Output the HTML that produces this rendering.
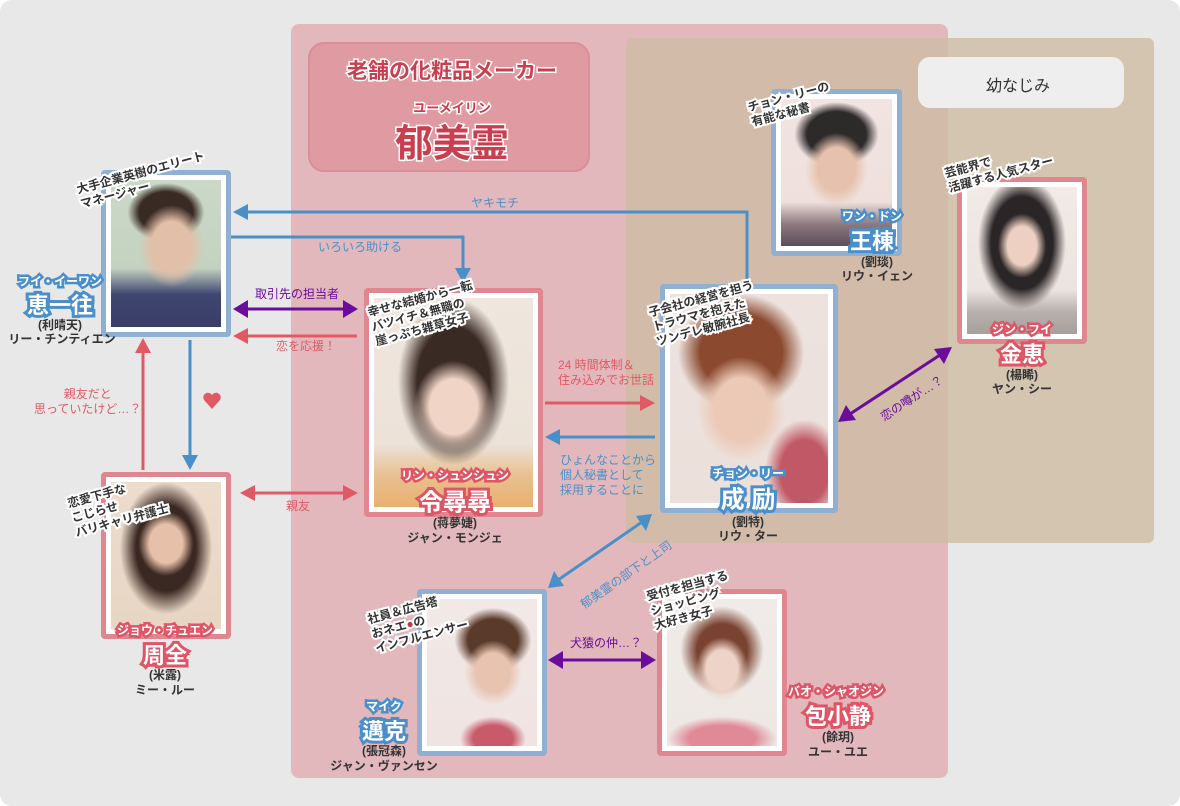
<!DOCTYPE html>
<html><head><meta charset="utf-8"><style>
*{margin:0;padding:0;box-sizing:border-box}
body{width:1180px;height:806px;background:#fff;position:relative;overflow:hidden;font-family:"Liberation Sans","Noto Sans CJK JP",sans-serif}
.a{position:absolute}
.c{position:absolute;transform:translate(-50%,-50%);white-space:nowrap;text-align:center}
.card{position:absolute;border:5px solid;border-radius:4px;background:#fff;padding:5px}
.card div{width:100%;height:100%}
.b{border-color:#8fb0d2}.p{border-color:#e0868f}
.nb,.np{color:#fff;font-weight:bold;paint-order:stroke fill}
.nb{-webkit-text-stroke:6px #4a8fcb}
.np{-webkit-text-stroke:6px #de5566}
.f{font-size:12px;-webkit-text-stroke-width:5px}
.nm{font-size:22px}
.k{font-size:12px;color:#333;font-weight:bold;line-height:14px}
.d{position:absolute;font-size:12px;font-weight:bold;color:#333;line-height:15px;transform:rotate(-15deg);transform-origin:left top;white-space:nowrap;-webkit-text-stroke:4px #fff;paint-order:stroke fill}
.l{position:absolute;font-size:12px;line-height:15px;white-space:nowrap}
</style></head><body>
<div class="a" style="left:0;top:0;width:1180px;height:806px;background:#e8e8e8;border-radius:12px"></div>
<div class="a" style="left:626px;top:38px;width:528px;height:505px;background:#d3c5b0;border-radius:6px"></div>
<div class="a" style="left:291px;top:24px;width:657px;height:754px;background:#e3b8bd;border-radius:8px"></div>
<div class="a" style="left:626px;top:38px;width:322px;height:505px;background:#d2bba9;border-radius:6px 0 0 6px"></div>
<div class="a" style="left:308px;top:42px;width:282px;height:130px;background:#e09aa2;border:2px solid #d88f98;border-radius:16px"></div>
<div class="c" style="left:452px;top:70px;font-size:21px;font-weight:bold;color:#c8404f;-webkit-text-stroke:3px #fff;paint-order:stroke fill">老舗の化粧品メーカー</div>
<div class="c" style="left:452px;top:107px;font-size:13px;font-weight:bold;color:#c8404f;-webkit-text-stroke:3px #fff;paint-order:stroke fill">ユーメイリン</div>
<div class="c" style="left:452px;top:140px;font-size:38px;font-weight:bold;color:#c8404f;-webkit-text-stroke:3px #fff;paint-order:stroke fill">郁美霊</div>
<div class="a" style="left:918px;top:57px;width:206px;height:51px;background:#eee;border-radius:12px"></div>
<div class="c" style="left:1018px;top:84px;font-size:16px;color:#333">幼なじみ</div>

<svg class="a" style="left:0;top:0" width="1180" height="806">
<g fill="none" stroke-width="3">
<path d="M747,284V212H248" stroke="#4a90c8"/>
<path d="M231,237H463V268" stroke="#4a90c8"/>
<path d="M248,309H343" stroke="#6a0d9a"/>
<path d="M357,336H248" stroke="#e05a66"/>
<path d="M190,340V455" stroke="#4a90c8"/>
<path d="M143,470V353" stroke="#e05a66"/>
<path d="M255,493H343" stroke="#e05a66"/>
<path d="M545,403H640" stroke="#e05a66"/>
<path d="M655,437H560" stroke="#4a90c8"/>
<path d="M850,414L940,355" stroke="#6a0d9a"/>
<path d="M558,580L642,522" stroke="#4a90c8"/>
<path d="M562,660H642" stroke="#6a0d9a"/>
</g>
<polygon points="233,212 248,204 248,220" fill="#4a90c8"/>
<polygon points="463,283 455,268 471,268" fill="#4a90c8"/>
<polygon points="233,309 248,300 248,318" fill="#6a0d9a"/>
<polygon points="358,309 343,300 343,318" fill="#6a0d9a"/>
<polygon points="233,336 248,328 248,344" fill="#e05a66"/>
<polygon points="190,470 182,455 198,455" fill="#4a90c8"/>
<polygon points="143,338 135,353 151,353" fill="#e05a66"/>
<polygon points="240,493 255,485 255,501" fill="#e05a66"/>
<polygon points="358,493 343,485 343,501" fill="#e05a66"/>
<polygon points="655,403 640,395 640,411" fill="#e05a66"/>
<polygon points="545,437 560,429 560,445" fill="#4a90c8"/>
<polygon points="838,422 846,405 856,420" fill="#6a0d9a"/>
<polygon points="952,347 934,349 944,364" fill="#6a0d9a"/>
<polygon points="548,588 554,571 564,586" fill="#4a90c8"/>
<polygon points="652,514 636,516 646,531" fill="#4a90c8"/>
<polygon points="548,660 563,651 563,669" fill="#6a0d9a"/>
<polygon points="656,660 641,651 641,669" fill="#6a0d9a"/>
<path d="M212,409 L204,400 A4.5,4.5 0 1 1 212,395 A4.5,4.5 0 1 1 220,400 Z" fill="#e05a66"/>
</svg>

<div class="l" style="left:471px;top:196px;color:#4a90c8">ヤキモチ</div>
<div class="l" style="left:318px;top:240px;color:#4a90c8">いろいろ助ける</div>
<div class="l" style="left:255px;top:287px;color:#6a0d9a">取引先の担当者</div>
<div class="l" style="left:276px;top:339px;color:#e05a66">恋を応援！</div>
<div class="l" style="left:34px;top:387px;color:#e05a66;text-align:center">親友だと<br>思っていたけど…？</div>
<div class="l" style="left:286px;top:499px;color:#e05a66">親友</div>
<div class="l" style="left:558px;top:358px;color:#e05a66">24 時間体制＆<br>住み込みでお世話</div>
<div class="l" style="left:560px;top:453px;color:#4a90c8">ひょんなことから<br>個人秘書として<br>採用することに</div>
<div class="l" style="left:878px;top:412px;color:#6a0d9a;transform:rotate(-33deg);transform-origin:left top">恋の噂が…？</div>
<div class="l" style="left:578px;top:600px;color:#4a90c8;transform:rotate(-35deg);transform-origin:left top">郁美霊の部下と上司</div>
<div class="l" style="left:570px;top:636px;color:#6a0d9a">犬猿の仲…？</div>

<div class="card b" style="left:101px;top:170px;width:130px;height:167px"><div style="background:radial-gradient(ellipse 30% 28% at 55% 45%,#e2bfa8 60%,transparent 100%),radial-gradient(ellipse 35% 20% at 50% 22%,#3a2a24 70%,transparent 100%),linear-gradient(180deg,#cbd8c8 0%,#c4d2c0 60%,#3f4670 78%,#3a3e66 100%)"></div></div>
<div class="card b" style="left:771px;top:89px;width:131px;height:167px"><div style="background:radial-gradient(ellipse 28% 25% at 50% 48%,#e6c2ae 60%,transparent 100%),radial-gradient(ellipse 38% 22% at 50% 24%,#2d2a2a 70%,transparent 100%),linear-gradient(180deg,#f2e4e2 0%,#efe0dc 70%,#8e7a80 85%,#5b4d5a 100%)"></div></div>
<div class="card p" style="left:957px;top:177px;width:130px;height:167px"><div style="background:radial-gradient(ellipse 22% 22% at 50% 40%,#edd0c2 60%,transparent 100%),radial-gradient(ellipse 40% 45% at 50% 38%,#2a2526 70%,transparent 100%),linear-gradient(180deg,#f1eae6 0%,#ece4e0 70%,#b8b0ac 85%,#a79f9c 100%)"></div></div>
<div class="card p" style="left:364px;top:288px;width:179px;height:229px"><div style="background:radial-gradient(ellipse 25% 22% at 50% 52%,#f0d4c6 60%,transparent 100%),radial-gradient(ellipse 35% 40% at 50% 40%,#3a2a24 65%,transparent 100%),linear-gradient(180deg,#efe6de 0%,#ece2d8 70%,#e8c090 85%,#e8b070 100%)"></div></div>
<div class="card b" style="left:660px;top:284px;width:178px;height:229px"><div style="background:radial-gradient(ellipse 28% 25% at 45% 55%,#ecc8b6 60%,transparent 100%),radial-gradient(ellipse 40% 28% at 45% 28%,#8b4a30 65%,transparent 100%),radial-gradient(ellipse 25% 25% at 85% 85%,#c05866 60%,transparent 100%),linear-gradient(180deg,#ede2de 0%,#ebe0da 100%)"></div></div>
<div class="card p" style="left:101px;top:472px;width:130px;height:167px"><div style="background:radial-gradient(ellipse 25% 22% at 50% 42%,#e6c0a8 60%,transparent 100%),radial-gradient(ellipse 42% 45% at 50% 45%,#3a2822 65%,transparent 100%),linear-gradient(180deg,#ecdccc 0%,#e8d6c4 100%)"></div></div>
<div class="card b" style="left:417px;top:589px;width:130px;height:167px"><div style="background:radial-gradient(ellipse 26% 22% at 60% 50%,#e8c4b0 60%,transparent 100%),radial-gradient(ellipse 35% 22% at 60% 28%,#5a3a2a 65%,transparent 100%),radial-gradient(ellipse 30% 15% at 60% 95%,#c85a6a 60%,transparent 100%),linear-gradient(180deg,#f2e8e6 0%,#efe4e2 100%)"></div></div>
<div class="card p" style="left:657px;top:589px;width:130px;height:167px"><div style="background:radial-gradient(ellipse 24% 22% at 50% 48%,#eed4c8 60%,transparent 100%),radial-gradient(ellipse 38% 30% at 50% 35%,#7a4230 60%,transparent 100%),radial-gradient(ellipse 50% 15% at 50% 95%,#e08a98 60%,transparent 100%),linear-gradient(180deg,#f0ebe8 0%,#ede8e4 100%)"></div></div>

<div class="d" style="left:75px;top:183px">大手企業英樹のエリート<br>マネージャー</div>
<div class="d" style="left:746px;top:101px">チョン・リーの<br>有能な秘書</div>
<div class="d" style="left:943px;top:167px">芸能界で<br>活躍する人気スター</div>
<div class="d" style="left:366px;top:306px">幸せな結婚から一転<br>バツイチ＆無職の<br>崖っぷち雑草女子</div>
<div class="d" style="left:647px;top:306px">子会社の経営を担う<br>トラウマを抱えた<br>ツンデレ敏腕社長</div>
<div class="d" style="left:66px;top:497px">恋愛下手な<br>こじらせ<br>バリキャリ弁護士</div>
<div class="d" style="left:366px;top:613px">社員＆広告塔<br>おネエ<span style="color:#d03040">●</span>の<br>インフルエンサー</div>
<div class="d" style="left:645px;top:590px">受付を担当する<br>ショッピング<br>大好き女子</div>

<div class="c nb f" style="left:60px;top:281px">フイ・イーワン</div>
<div class="c nb nm" style="left:60px;top:304px">恵一往</div>
<div class="c k" style="left:60px;top:325px">(利晴天)</div>
<div class="c k" style="left:62px;top:339px">リー・チンティエン</div>

<div class="c nb f" style="left:872px;top:216px">ワン・ドン</div>
<div class="c nb nm" style="left:872px;top:240px">王棟</div>
<div class="c k" style="left:877px;top:262px">(劉琰)</div>
<div class="c k" style="left:877px;top:276px">リウ・イェン</div>

<div class="c np f" style="left:1022px;top:329px">ジン・フイ</div>
<div class="c np nm" style="left:1022px;top:353px">金恵</div>
<div class="c k" style="left:1022px;top:375px">(楊睎)</div>
<div class="c k" style="left:1022px;top:389px">ヤン・シー</div>

<div class="c np f" style="left:455px;top:475px">リン・シュンシュン</div>
<div class="c np" style="left:455px;top:500px;font-size:24px">令尋尋</div>
<div class="c k" style="left:455px;top:523px">(蒋夢婕)</div>
<div class="c k" style="left:455px;top:538px">ジャン・モンジェ</div>

<div class="c nb f" style="left:748px;top:473px">チョン・リー</div>
<div class="c nb" style="left:748px;top:497px;font-size:24px">成 励</div>
<div class="c k" style="left:748px;top:522px">(劉特)</div>
<div class="c k" style="left:748px;top:536px">リウ・ター</div>

<div class="c np f" style="left:165px;top:630px">ジョウ・チュエン</div>
<div class="c np nm" style="left:165px;top:654px">周全</div>
<div class="c k" style="left:165px;top:675px">(米露)</div>
<div class="c k" style="left:165px;top:690px">ミー・ルー</div>

<div class="c nb f" style="left:384px;top:706px">マイク</div>
<div class="c nb nm" style="left:384px;top:730px">邁克</div>
<div class="c k" style="left:384px;top:751px">(張冠森)</div>
<div class="c k" style="left:384px;top:766px">ジャン・ヴァンセン</div>

<div class="c np f" style="left:836px;top:691px">バオ・シャオジン</div>
<div class="c np nm" style="left:838px;top:715px">包小静</div>
<div class="c k" style="left:838px;top:737px">(餘玥)</div>
<div class="c k" style="left:838px;top:752px">ユー・ユエ</div>
</body></html>
